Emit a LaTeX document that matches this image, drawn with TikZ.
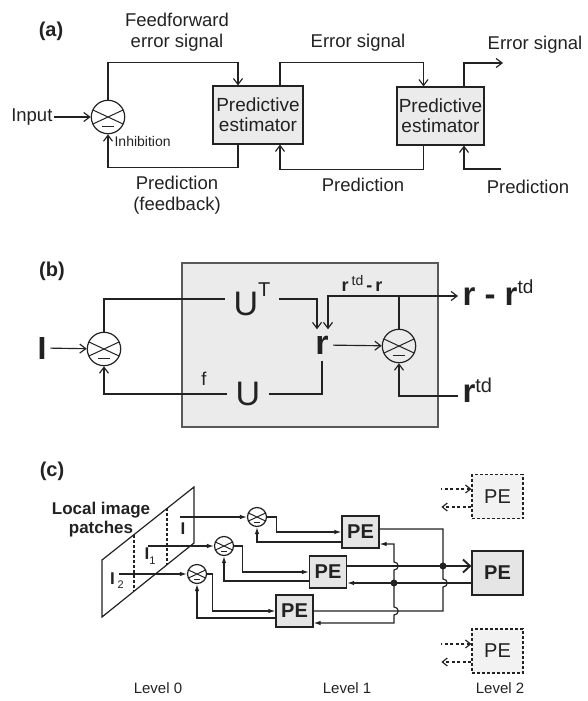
\documentclass[tikz,border=0pt]{standalone}
\usepackage{fontspec}
\setmainfont{Liberation Sans}
\usetikzlibrary{arrows.meta}

\definecolor{ink}{HTML}{222222}
\definecolor{boxgray}{HTML}{EBEBEB}
\definecolor{pegray}{HTML}{E5E5E5}
\definecolor{dashfill}{HTML}{F2F2F2}

% raised small text (superscripts)
\newcommand{\upsc}[3]{\raisebox{#1}{\fontsize{#2}{#2}\selectfont\mdseries #3}}

\tikzset{
  arr/.style={-{Straight Barb[length=6pt,width=9pt]}},
  arrc/.style={-{Latex[length=7pt,width=4.5pt]}},
  arrcc/.style={{Latex[length=7pt,width=4.5pt]}-{Latex[length=7pt,width=4.5pt]}},
  bigarr/.style={line width=1.9pt,-{Straight Barb[length=7pt,width=13pt]}},
  dashin/.style={dash pattern=on 3pt off 2.5pt,{Straight Barb[length=5pt,width=8pt]}-},
  dashout/.style={dash pattern=on 3pt off 2.5pt,-{Straight Barb[length=5pt,width=8pt]}},
  comp/.style={circle,draw,line width=1.2pt,inner sep=0pt,minimum size=2*#1,
    path picture={
      \draw[line width=1pt]
        ([shift={(155:#1)}]path picture bounding box.center) -- ([shift={(-25:#1)}]path picture bounding box.center)
        ([shift={(25:#1)}]path picture bounding box.center) -- ([shift={(205:#1)}]path picture bounding box.center);
      \draw[line width=1.6pt]
        ([shift={(-0.36*#1,-0.58*#1)}]path picture bounding box.center) -- ([shift={(0.36*#1,-0.58*#1)}]path picture bounding box.center);
    }},
  hop/.style={to path={-| ([yshift=4pt]\tikztotarget) .. controls +(5.5,0) and +(5.5,0) .. ([yshift=-4pt]\tikztotarget)}},
  txt/.style={font=\fontsize{18.5}{21}\selectfont,align=center,inner sep=1pt},
  lab/.style={font=\bfseries\fontsize{20}{20}\selectfont},
  big/.style={font=\fontsize{34}{34}\selectfont,inner xsep=8pt,inner ysep=3pt},
  predbox/.style={draw,fill=boxgray,line width=1.1pt,minimum width=90pt,minimum height=58pt,
    inner sep=0pt,align=center,font=\fontsize{19}{20}\selectfont},
  pebox/.style={draw,fill=pegray,line width=1.2pt,minimum width=37pt,minimum height=32pt,
    inner sep=0pt,font=\bfseries\fontsize{20}{20}\selectfont},
  bigpe/.style={pebox,minimum width=51pt,minimum height=44pt},
  dashpe/.style={bigpe,dash pattern=on 3pt off 2pt,fill=dashfill,font=\fontsize{20}{20}\selectfont},
  patch/.style={font=\bfseries\fontsize{17}{19}\selectfont,align=center,inner sep=0pt},
}

\begin{document}
\begin{tikzpicture}[x=1pt,y=-1pt,line width=1.15pt,color=ink]
  \useasboundingbox (0,0) rectangle (587,701);

  % (a) chain of predictive estimators
  \node[lab] (la) at (51,31) {(a)};
  \node[comp=16.7pt] (ca) at (108,117) {};
  \node[txt,anchor=east] (inp) at (54,117) {Input};
  \node[predbox] (pe1) at (258,115) {Predictive\\estimator};
  \node[predbox,minimum width=87pt] (pe2) at (440.5,116) {Predictive\\estimator};
  \node[txt] (ffs) at (177,32) {Feedforward\\error signal};
  \node[txt] (es1) at (358,43) {Error signal};
  \node[txt] (es2) at (535,45) {Error signal};
  \node[txt] (prf) at (177,195) {Prediction\\(feedback)};
  \node[txt] (pr1) at (363,185) {Prediction};
  \node[txt] (pr2) at (528,187) {Prediction};
  \node[font=\fontsize{14}{14}\selectfont,anchor=west,inner sep=0pt] (inh) at (114,141) {Inhibition};
  \coordinate (eout) at (503,63);
  \coordinate (pin) at (501,169);

  \draw[arr] (inp) -- (ca);
  \draw[arr] (ca) |- ([xshift=-20pt,yshift=23pt]pe1.north) -- ([xshift=-20pt]pe1.north);
  \draw[arr] ([xshift=-20pt]pe1.south) -- ++(0,23) -| (ca);
  \draw[arr] ([xshift=22pt]pe1.north) -- ++(0,-23) -| ([xshift=-17pt]pe2.north);
  \draw[arr] ([xshift=-17pt]pe2.south) -- ++(0,24) -| ([xshift=22pt]pe1.south);
  \draw[arr] ([xshift=23.5pt]pe2.north) |- (eout);
  \draw[arr] (pin) -| ([xshift=23.5pt]pe2.south);

  % (b) inside one estimator
  \node[lab] (lb) at (52,271) {(b)};
  \node[draw=ink!75,fill=boxgray,line width=1.1pt,minimum width=256pt,minimum height=164pt] (estb) at (310,345) {};
  \node[font=\bfseries\fontsize{32}{32}\selectfont] (inI) at (42,348) {I};
  \node[comp=16.7pt] (cb1) at (104,349) {};
  \node[comp=16.7pt] (cb2) at (399,346) {};
  \node[big] (ut) at (252,299) {U\upsc{19pt}{20}{T}};
  \node[big] (u) at (248,394) {U};
  \node[big,font=\bfseries\fontsize{34}{34}\selectfont,inner xsep=4pt,inner ysep=6pt] (r) at (322,345) {r};
  \node[big,font=\bfseries\fontsize{33}{33}\selectfont,inner xsep=4pt,anchor=base west] (rout) at (458,305) {r - r\upsc{12pt}{19}{td}};
  \node[big,font=\bfseries\fontsize{33}{33}\selectfont,inner xsep=4pt,anchor=base west] (rtd) at (458,402) {r\upsc{10pt}{20}{td}};
  \node[font=\bfseries\fontsize{18}{18}\selectfont] (tdr) at (362,283) {r\,\upsc{6pt}{14}{td}\,-\,r};
  \node[txt] (fl) at (204,379) {f};
  \coordinate (jb) at (399,296);

  \draw[arr] (inI) -- (cb1);
  \draw (cb1) |- (ut);
  \draw[arr] (ut) -| ([xshift=-5pt]r.north);
  \draw[arr] (r) -- (cb2);
  \draw (cb2) -- (jb);
  \draw[arr] (jb) -- (jb -| rout.west);
  \draw[arr] (jb) -| ([xshift=6pt]r.north);
  \draw (r) |- (u);
  \draw[arr] (u) -| (cb1);
  \draw[arr] ([yshift=6pt]rtd.base west) -| (cb2);

  % (c) hierarchy of estimators
  \node[lab] (lc) at (52,471) {(c)};
  \draw[line width=1.2pt] (102,560) -- (194,487) -- (194,543) -- (102,617) -- cycle;
  \draw[dash pattern=on 3pt off 2pt] (167,508) -- (167,565) (134,535) -- (134,591);
  \node[patch] (lip) at (101,520) {Local image\\patches};
  \node[patch] (i0) at (183,529) {I};
  \node[patch] (i1) at (150,556) {I\upsc{-5pt}{11}{1}};
  \node[patch] (i2) at (117,581) {I\,\upsc{-4pt}{11}{2}};
  \coordinate (s0) at (180,517);
  \coordinate (s1) at (148,546);
  \coordinate (s2) at (119,574);
  \node[comp=9.5pt] (cc1) at (257,517) {};
  \node[comp=9.5pt] (cc2) at (224,546) {};
  \node[comp=9.5pt] (cc3) at (197,574) {};
  \node[pebox] (p1) at (360.5,532) {PE};
  \node[pebox] (p2) at (328,572) {PE};
  \node[pebox] (p3) at (294.5,611) {PE};
  \node[bigpe] (p4) at (497.5,573) {PE};
  \node[dashpe] (p5) at (497.5,496.5) {PE};
  \node[dashpe] (p6) at (497.5,651) {PE};
  \node[txt,font=\fontsize{15}{15}\selectfont] (l0) at (158,688) {Level 0};
  \node[txt,font=\fontsize{15}{15}\selectfont] (l1) at (347,688) {Level 1};
  \node[txt,font=\fontsize{15}{15}\selectfont] (l2) at (500,688) {Level 2};

  \draw[arrc] (s0) -- (cc1);
  \draw[arrc] (s1) -- (cc2);
  \draw[arrc] (s2) -- (cc3);
  \draw[arrc] (cc1.east) -- ++(9.5,0) |- (p1);
  \draw[arrc] (cc2.east) -- ++(8.5,0) |- (p2);
  \draw[arrc] (cc3.east) -- ++(5.5,0) |- (p3);
  \draw[arrc] ([yshift=-10pt]p1.west) -| (cc1);
  \draw[arrc] ([yshift=-9pt]p2.west) -| (cc2);
  \draw[arrc] ([yshift=-7pt]p3.west) -| (cc3);

  % buses to and from level 2
  \coordinate (jout) at (443,566);
  \coordinate (jfb) at (394,583);
  \coordinate (xa) at (jout |- jfb);
  \coordinate (xb) at (jfb |- jout);
  \coordinate (xc) at (jfb |- p3.east);
  \draw ([yshift=3pt]p1.east) to[hop] (xa) |- (p3.east);
  \draw ([yshift=6pt]p2.east) -- (jout);
  \draw[bigarr] (jout) -- (jout -| p4.west);
  \draw[arrcc] ([yshift=-12pt]p1.east) to[hop] (xb) to[hop] (xc) |- ([yshift=-12pt]p3.east);
  \draw[line width=1.9pt] ([yshift=-10pt]p4.west) -- (jfb);
  \draw[arrc] (jfb) -- ([yshift=-11pt]p2.east);
  \fill (jout) circle (3.5);
  \fill (jfb) circle (3.5);

  \draw[dashin] ([yshift=7.5pt]p5.west) -- ++(-30,0);
  \draw[dashout] ([yshift=-10.5pt]p5.west) -- ++(-30,0);
  \draw[dashin] ([yshift=7pt]p6.west) -- ++(-30,0);
  \draw[dashout] ([yshift=-11pt]p6.west) -- ++(-30,0);
\end{tikzpicture}
\end{document}
